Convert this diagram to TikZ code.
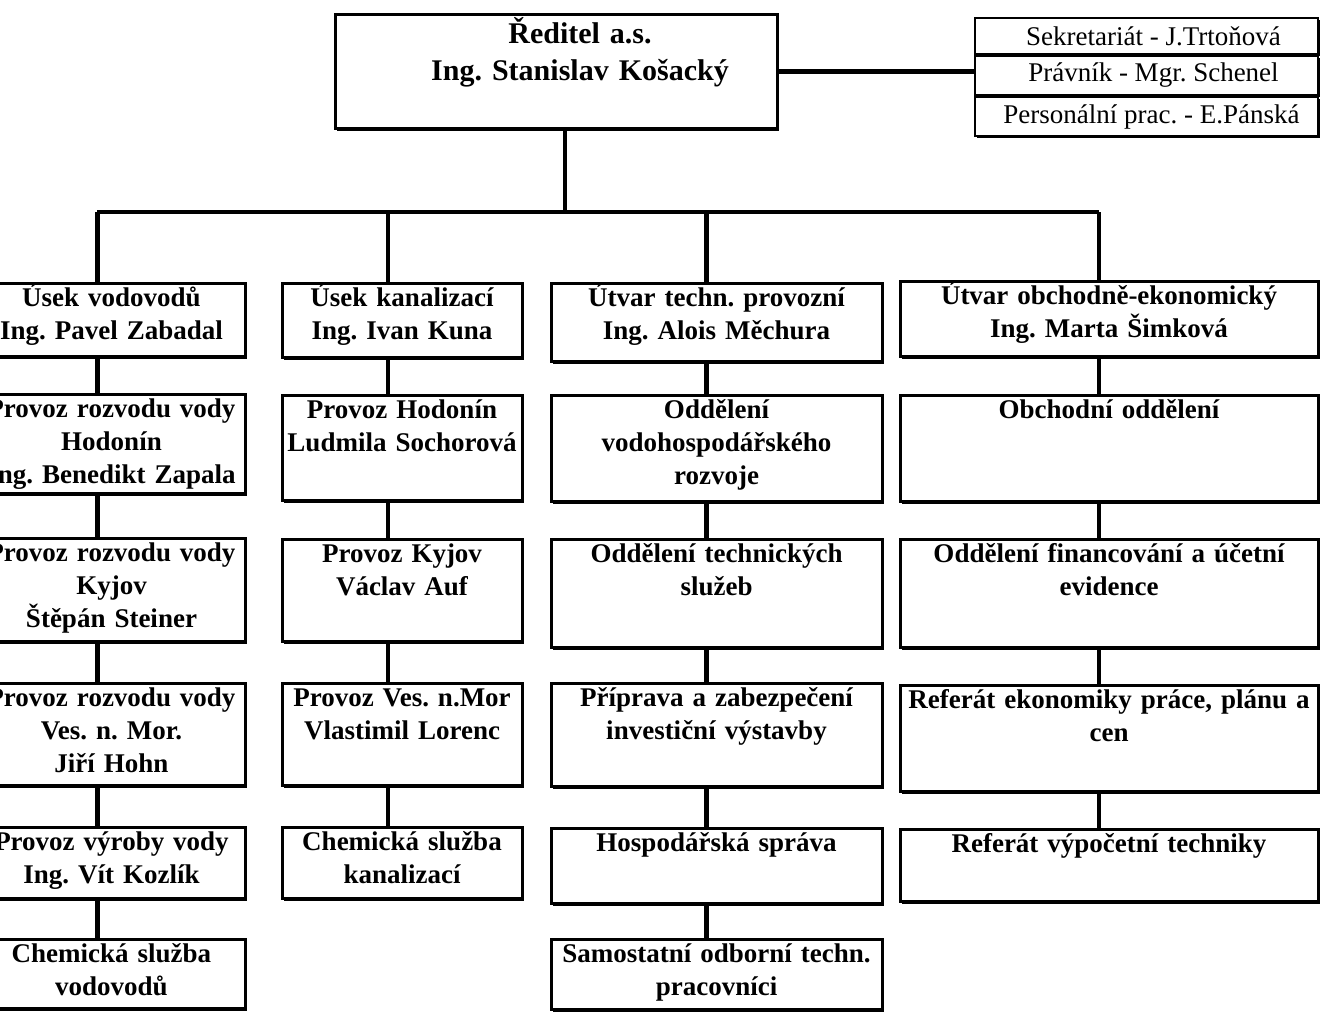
\documentclass[tikz,border=0pt]{standalone}
\usepackage{fontspec}
\setmainfont{Liberation Serif}
\usetikzlibrary{positioning,shadows}

\tikzset{
  box/.style={draw, line width=1.5pt, fill=white, inner sep=0pt, anchor=north,
    drop shadow={shadow xshift=1pt, shadow yshift=-1pt, opacity=1, fill=black}},
  txt/.style={anchor=base, align=center, inner sep=0pt, text width=230pt, yshift=-12pt,
    font=\bfseries\frenchspacing\fontsize{13.5}{16.5}\selectfont},
  link/.style={line width=2.2pt},
  staff/.style={draw, line width=1pt, fill=white, minimum width=171.5pt, inner sep=0pt,
    font=\frenchspacing\fontsize{13.5}{15}\selectfont,
    drop shadow={shadow xshift=1pt, shadow yshift=-1pt, opacity=1, fill=black}}
}

\begin{document}
\begin{tikzpicture}[x=0.5pt, y=-0.5pt]
\fill[white] (0,0) rectangle (1321,1011);
\useasboundingbox (0,0) rectangle (1321,1011);

% reditel a stab
\node[box, minimum width=221pt, minimum height=57pt] (ceo) at (556,13) {};
\node[txt, yshift=-3.5pt, xshift=12pt, font=\bfseries\frenchspacing\fontsize{15}{18.5}\selectfont] (ceot) at (ceo.north) {Ředitel a.s.\\Ing. Stanislav Košacký};
\node[staff, minimum height=18pt, anchor=north] (sek) at (1146.5,17) {\hspace*{7pt}Sekretariát - J.Trtoňová};
\node[staff, minimum height=19.5pt, below=0pt of sek] (prav) {\hspace*{7pt}Právník - Mgr. Schenel};
\node[staff, minimum height=19.5pt, below=0pt of prav] (pers) {\hspace*{5pt}Personální prac. - E.Pánská};
\draw[link] (ceo.east) -- (ceo.east -| prav.west);

% useky a utvary
\node[box, minimum width=137.5pt, minimum height=36.5pt] (vod) at (107.5,282) {};
\node[txt, xshift=2pt] (vodt) at (vod.north) {Úsek vodovodů\\Ing. Pavel Zabadal};
\node[box, minimum width=120pt, minimum height=37pt] (kan) at (402,282) {};
\node[txt] (kant) at (kan.north) {Úsek kanalizací\\Ing. Ivan Kuna};
\node[box, minimum width=165.5pt, minimum height=39pt] (tech) at (716.5,282) {};
\node[txt] (techt) at (tech.north) {Útvar techn. provozní\\Ing. Alois Měchura};
\node[box, minimum width=209pt, minimum height=37.5pt] (obch) at (1109,280) {};
\node[txt] (obcht) at (obch.north) {Útvar obchodně-ekonomický\\Ing. Marta Šimková};

\coordinate (busL) at (97,212);
\coordinate (busR) at (1099,212);
\draw[link] (busL) -- (busR);
\draw[link] ([xshift=4.5pt]ceo.south) -- ([xshift=4.5pt]ceo.south |- busL);
\draw[link] ([xshift=-5pt]vod.north) -- ([xshift=-5pt]vod.north |- busL);
\draw[link] ([xshift=-7pt]kan.north) -- ([xshift=-7pt]kan.north |- busL);
\draw[link] ([xshift=-5pt]tech.north) -- ([xshift=-5pt]tech.north |- busL);
\draw[link] ([xshift=-5pt]obch.north) -- ([xshift=-5pt]obch.north |- busL);

% vodovody
\node[box, minimum width=137.5pt, minimum height=49.5pt] (vod1) at (107.5,393) {};
\node[txt, xshift=2pt] (vod1t) at (vod1.north) {Provoz rozvodu vody\\Hodonín\\Ing. Benedikt Zapala};
\node[box, minimum width=137.5pt, minimum height=51.5pt] (vod2) at (107.5,537) {};
\node[txt, xshift=2pt] (vod2t) at (vod2.north) {Provoz rozvodu vody\\Kyjov\\Štěpán Steiner};
\node[box, minimum width=137.5pt, minimum height=51pt] (vod3) at (107.5,682) {};
\node[txt, xshift=2pt] (vod3t) at (vod3.north) {Provoz rozvodu vody\\Ves. n. Mor.\\Jiří Hohn};
\node[box, minimum width=137.5pt, minimum height=35.5pt] (vod4) at (107.5,826) {};
\node[txt, xshift=2pt] (vod4t) at (vod4.north) {Provoz výroby vody\\Ing. Vít Kozlík};
\node[box, minimum width=137.5pt, minimum height=34.5pt] (vod5) at (107.5,938) {};
\node[txt, xshift=2pt] (vod5t) at (vod5.north) {Chemická služba\\vodovodů};
\draw[link] ([xshift=-5pt]vod.south) -- ([xshift=-5pt]vod1.north);
\draw[link] ([xshift=-5pt]vod1.south) -- ([xshift=-5pt]vod2.north);
\draw[link] ([xshift=-5pt]vod2.south) -- ([xshift=-5pt]vod3.north);
\draw[link] ([xshift=-5pt]vod3.south) -- ([xshift=-5pt]vod4.north);
\draw[link] ([xshift=-5pt]vod4.south) -- ([xshift=-5pt]vod5.north);

% kanalizace
\node[box, minimum width=120pt, minimum height=52.5pt] (kan1) at (402,394) {};
\node[txt] (kan1t) at (kan1.north) {Provoz Hodonín\\Ludmila Sochorová};
\node[box, minimum width=120pt, minimum height=51pt] (kan2) at (402,538) {};
\node[txt] (kan2t) at (kan2.north) {Provoz Kyjov\\Václav Auf};
\node[box, minimum width=120pt, minimum height=51pt] (kan3) at (402,682) {};
\node[txt] (kan3t) at (kan3.north) {Provoz Ves. n.Mor\\Vlastimil Lorenc};
\node[box, minimum width=120pt, minimum height=35.5pt] (kan4) at (402,826) {};
\node[txt] (kan4t) at (kan4.north) {Chemická služba\\kanalizací};
\draw[link] ([xshift=-7pt]kan.south) -- ([xshift=-7pt]kan1.north);
\draw[link] ([xshift=-7pt]kan1.south) -- ([xshift=-7pt]kan2.north);
\draw[link] ([xshift=-7pt]kan2.south) -- ([xshift=-7pt]kan3.north);
\draw[link] ([xshift=-7pt]kan3.south) -- ([xshift=-7pt]kan4.north);

% techn. provozni
\node[box, minimum width=165.5pt, minimum height=53pt] (tech1) at (716.5,394) {};
\node[txt] (tech1t) at (tech1.north) {Oddělení\\vodohospodářského\\rozvoje};
\node[box, minimum width=165.5pt, minimum height=54pt] (tech2) at (716.5,538) {};
\node[txt] (tech2t) at (tech2.north) {Oddělení technických\\služeb};
\node[box, minimum width=165.5pt, minimum height=51.5pt] (tech3) at (716.5,682) {};
\node[txt] (tech3t) at (tech3.north) {Příprava a zabezpečení\\investiční výstavby};
\node[box, minimum width=165.5pt, minimum height=37.5pt] (tech4) at (716.5,827) {};
\node[txt] (tech4t) at (tech4.north) {Hospodářská správa};
\node[box, minimum width=165.5pt, minimum height=35pt] (tech5) at (716.5,938) {};
\node[txt] (tech5t) at (tech5.north) {Samostatní odborní techn.\\pracovníci};
\draw[link] ([xshift=-5pt]tech.south) -- ([xshift=-5pt]tech1.north);
\draw[link] ([xshift=-5pt]tech1.south) -- ([xshift=-5pt]tech2.north);
\draw[link] ([xshift=-5pt]tech2.south) -- ([xshift=-5pt]tech3.north);
\draw[link] ([xshift=-5pt]tech3.south) -- ([xshift=-5pt]tech4.north);
\draw[link] ([xshift=-5pt]tech4.south) -- ([xshift=-5pt]tech5.north);

% obchodne-ekonomicky
\node[box, minimum width=209pt, minimum height=53pt] (obch1) at (1109,394) {};
\node[txt] (obch1t) at (obch1.north) {Obchodní oddělení};
\node[box, minimum width=209pt, minimum height=54pt] (obch2) at (1109,538) {};
\node[txt] (obch2t) at (obch2.north) {Oddělení financování a účetní\\evidence};
\node[box, minimum width=209pt, minimum height=53pt] (obch3) at (1109,684) {};
\node[txt] (obch3t) at (obch3.north) {Referát ekonomiky práce, plánu a\\cen};
\node[box, minimum width=209pt, minimum height=36pt] (obch4) at (1109,828) {};
\node[txt] (obch4t) at (obch4.north) {Referát výpočetní techniky};
\draw[link] ([xshift=-5pt]obch.south) -- ([xshift=-5pt]obch1.north);
\draw[link] ([xshift=-5pt]obch1.south) -- ([xshift=-5pt]obch2.north);
\draw[link] ([xshift=-5pt]obch2.south) -- ([xshift=-5pt]obch3.north);
\draw[link] ([xshift=-5pt]obch3.south) -- ([xshift=-5pt]obch4.north);
\end{tikzpicture}
\end{document}
